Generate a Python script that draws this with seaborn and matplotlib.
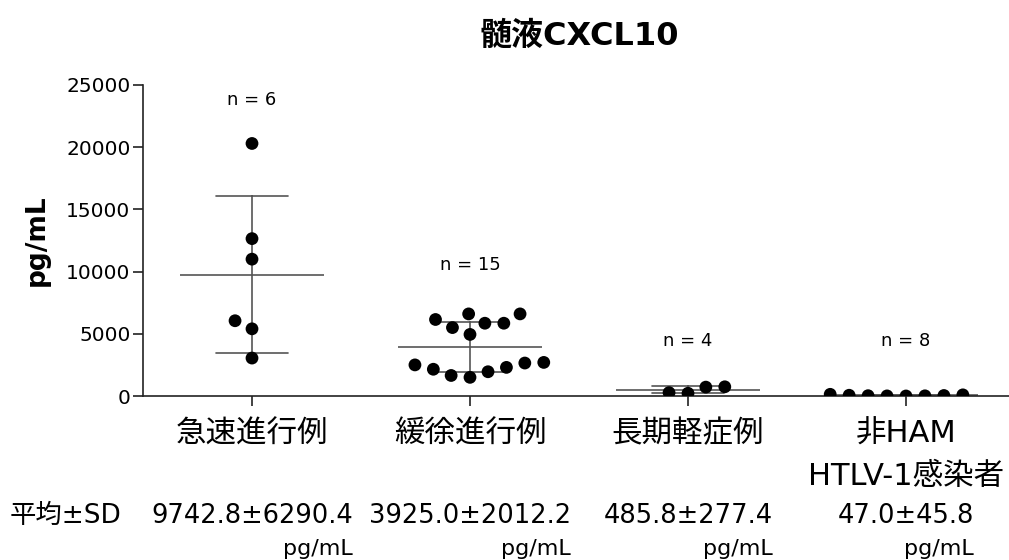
import pandas as pd
import seaborn as sns
import matplotlib.pyplot as plt

# data
groups = ["急速進行例", "緩徐進行例", "長期軽症例", "非HAM\nHTLV-1感染者"]
rapid = [20300, 12650, 11000, 6050, 5400, 3050]
slow = [5850, 6600, 6600, 5850, 6150, 5500, 4950,
        2650, 2300, 1950, 1500, 1650, 2150, 2500, 2700]
longterm = [740, 220, 270, 713]
carrier = [2, 8, 14, 25, 40, 60, 92, 135]
n_labels = ["n = 6", "n = 15", "n = 4", "n = 8"]
n_label_y = [23800, 10500, 4400, 4400]
mean_sd = ["9742.8±6290.4", "3925.0±2012.2", "485.8±277.4", "47.0±45.8"]

df = pd.DataFrame({
    "group": [groups[0]] * len(rapid) + [groups[1]] * len(slow)
             + [groups[2]] * len(longterm) + [groups[3]] * len(carrier),
    "value": rapid + slow + longterm + carrier,
})

sns.set_style("ticks")
plt.rcParams["font.family"] = ["DejaVu Sans", "Noto Sans CJK JP"]
plt.rcParams["text.color"] = "black"
plt.rcParams["axes.labelcolor"] = "black"
plt.rcParams["xtick.color"] = "black"
plt.rcParams["ytick.color"] = "black"

fig = plt.figure(figsize=(10.09, 5.60), dpi=100)
ax = fig.add_axes([143 / 1009, 1 - 396 / 560, 872 / 1009, 311 / 560])

line_col = "#555555"
sns.pointplot(data=df, x="group", y="value", order=groups, errorbar="sd",
              capsize=0.33, linestyle="none", marker="_", markersize=104,
              markeredgewidth=1.2, color=line_col,
              err_kws={"linewidth": 1.2}, ax=ax)
sns.swarmplot(data=df, x="group", y="value", order=groups, color="black",
              size=9.2, linewidth=3.8, edgecolor="none", ax=ax, zorder=3)

ax.set_xlim(-0.5, 3.5)
ax.set_ylim(0, 25000)
ax.set_yticks([0, 5000, 10000, 15000, 20000, 25000])
ax.set_xlabel("")
ax.set_ylabel("pg/mL", fontsize=19, fontweight="bold", labelpad=12)
ax.set_title("髄液CXCL10", fontsize=23, fontweight="bold", pad=29)

sns.despine(ax=ax)
for s in ["left", "bottom"]:
    ax.spines[s].set_linewidth(1.2)
    ax.spines[s].set_color("#222222")
ax.tick_params(axis="y", labelsize=14.5, length=7, width=1.2, color="#222222", pad=2)
ax.tick_params(axis="x", labelsize=22, length=7, width=1.2, color="#222222", pad=10)
for lab in ax.get_xticklabels():
    lab.set_linespacing(1.6)

for i, t in enumerate(n_labels):
    ax.text(i, n_label_y[i], t, ha="center", va="center", fontsize=13)

trans = ax.get_xaxis_transform()
fig.text(0.010, 1 - 516 / 560, "平均±SD", ha="left", va="center", fontsize=19)
for i, t in enumerate(mean_sd):
    txt = ax.text(i, -0.386, t, transform=trans, ha="center", va="center",
                  fontsize=18.5)
    ax.annotate("pg/mL", xy=(1, 0), xycoords=txt, xytext=(0, -7),
                textcoords="offset points", ha="right", va="top", fontsize=16)

fig.savefig("out.png", dpi=100)
